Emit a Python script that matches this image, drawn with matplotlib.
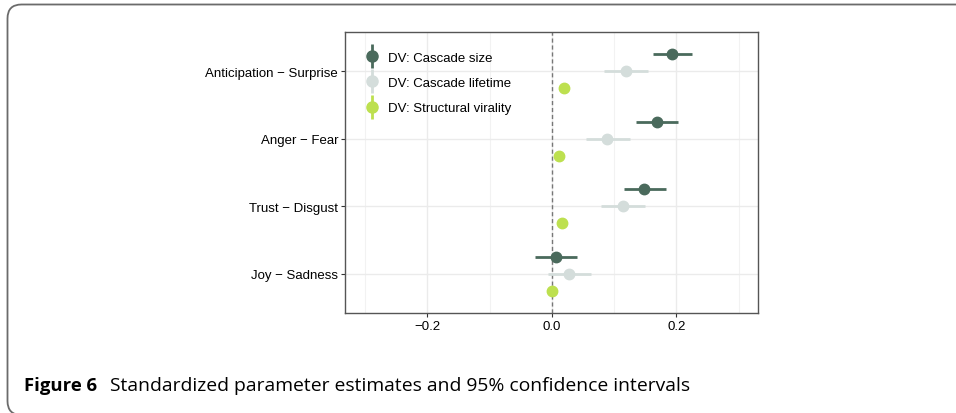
import numpy as np
import matplotlib.pyplot as plt
from matplotlib.lines import Line2D
from matplotlib.patches import FancyBboxPatch
from matplotlib.legend_handler import HandlerTuple

# contrasts, bottom to top
categories = ['Joy \u2212 Sadness', 'Trust \u2212 Disgust', 'Anger \u2212 Fear', 'Anticipation \u2212 Surprise']

# estimates and 95% CI per dependent variable (same order as categories)
size_est = [0.006, 0.148, 0.169, 0.193]
size_lo = [-0.027, 0.115, 0.135, 0.162]
size_hi = [0.041, 0.183, 0.202, 0.225]

life_est = [0.027, 0.114, 0.089, 0.119]
life_lo = [-0.007, 0.079, 0.054, 0.084]
life_hi = [0.062, 0.150, 0.125, 0.155]

vir_est = [0.000, 0.016, 0.011, 0.020]
vir_lo = [-0.004, 0.012, 0.007, 0.016]
vir_hi = [0.004, 0.020, 0.015, 0.024]

series = [
    ('DV: Cascade size', size_est, size_lo, size_hi, '#4a6a5c', 0.25),
    ('DV: Cascade lifetime', life_est, life_lo, life_hi, '#d4dddb', 0.0),
    ('DV: Structural virality', vir_est, vir_lo, vir_hi, '#bde04f', -0.25),
]

plt.rcParams['font.family'] = ['Liberation Sans', 'DejaVu Sans']

fig = plt.figure(figsize=(9.56, 4.14), dpi=100)

# journal style rounded frame (in inches, runs off the right and bottom)
frame = FancyBboxPatch((0.075, -0.02), 12.0, 4.085 + 0.02,
                       boxstyle='round,pad=0,rounding_size=0.14',
                       transform=fig.dpi_scale_trans, fill=False,
                       edgecolor='#6b6b6b', linewidth=1.3)
fig.patches.append(frame)

ax = fig.add_axes([345 / 956, 1 - 314 / 414, 413 / 956, 281 / 414])

y = np.arange(1, len(categories) + 1)
handles = []
for label, est, lo, hi, color, off in series:
    est = np.array(est)
    xerr = [est - np.array(lo), np.array(hi) - est]
    ax.errorbar(est, y + off, xerr=xerr, fmt='o', color=color, ms=7.5,
                elinewidth=2.0, capsize=0, zorder=3)
    h = (Line2D([], [], color=color, marker='|', ms=17, mew=2.0, ls='none'),
         Line2D([], [], color=color, marker='o', ms=8, ls='none'))
    handles.append(h)

ax.axvline(0, color='#777777', ls=(0, (3, 2)), lw=1.0, zorder=2)

ax.set_xlim(-0.3325, 0.331)
ax.set_ylim(0.42, 4.58)
ax.set_xticks([-0.2, 0.0, 0.2])
ax.set_xticklabels(['\u22120.2', '0.0', '0.2'])
ax.set_xticks([-0.3, -0.1, 0.1, 0.3], minor=True)
ax.set_yticks(y)
ax.set_yticklabels(categories)

ax.grid(True, which='major', color='#ebebeb', lw=1.0, zorder=0)
ax.grid(True, which='minor', axis='x', color='#f2f2f2', lw=0.8, zorder=0)
ax.set_axisbelow(True)
ax.tick_params(which='major', length=3, color='#333333', labelsize=9.5,
               labelcolor='black', pad=2)
ax.tick_params(which='minor', length=0)
for s in ax.spines.values():
    s.set_color('#555555')
    s.set_linewidth(1.0)

ax.legend(handles, [s[0] for s in series], loc='upper left', frameon=False,
          handler_map={tuple: HandlerTuple(ndivide=1)}, fontsize=9.5,
          handlelength=1.0, handletextpad=0.7, labelspacing=1.0,
          bbox_to_anchor=(0.017, 0.978), borderaxespad=0.6)

fig.text(24 / 956, 1 - 391 / 414, 'Figure 6', fontsize=13.3, va='baseline',
         fontweight='bold', family=['Open Sans', 'DejaVu Sans'])
fig.text(110 / 956, 1 - 391 / 414, 'Standardized parameter estimates and 95% confidence intervals',
         fontsize=13.9, va='baseline', family=['Open Sans', 'DejaVu Sans'])

fig.savefig('out.png', dpi=100)
